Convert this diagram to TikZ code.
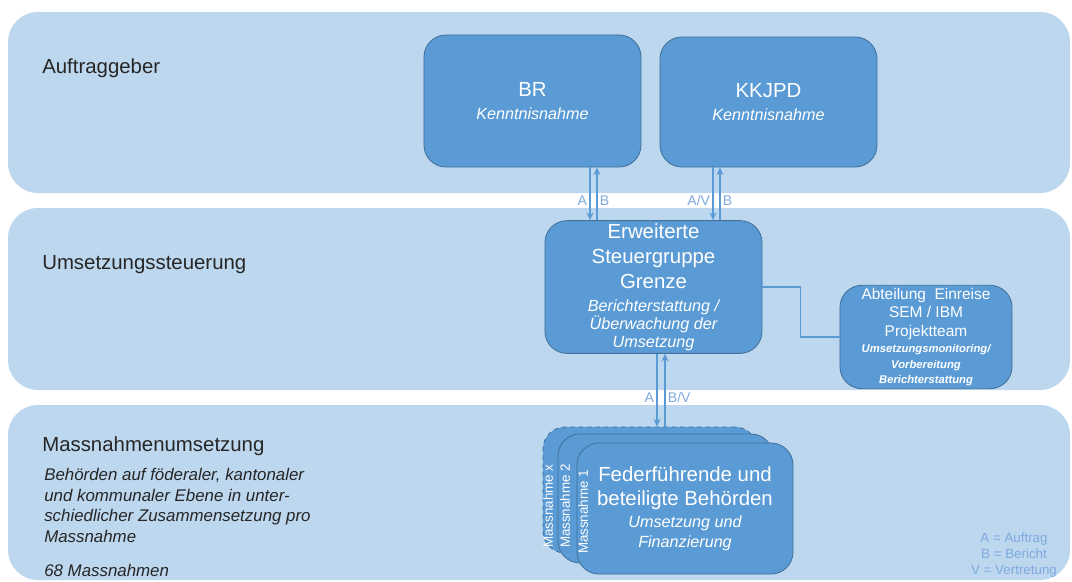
\documentclass[tikz,border=0pt]{standalone}
\usepackage{fontspec}
\setmainfont{Liberation Sans}
\usepackage{tikz}
\usetikzlibrary{arrows.meta}

\definecolor{bandblue}{HTML}{BDD7EE}
\definecolor{boxblue}{HTML}{5B9BD5}
\definecolor{boxedge}{HTML}{41719C}
\definecolor{labelblue}{HTML}{7FAADF}
\definecolor{darktext}{HTML}{262626}

\newcommand{\titlefont}{\fontsize{14.5}{17.8}\selectfont}
\newcommand{\notefont}{\fontsize{11.5}{13.5}\selectfont\itshape}
\newcommand{\smallnote}{\fontsize{8}{11}\selectfont\bfseries\itshape}

\tikzset{
  band/.style={fill=bandblue, rounded corners=0.75cm},
  orgbox/.style={draw=boxedge, fill=boxblue, rounded corners=0.55cm, text=white,
    align=center, line width=0.6pt, inner sep=2pt, font=\titlefont},
  flow/.style={draw=boxblue, line width=1.1pt, -{Stealth[length=5.5pt,width=5pt]}},
  link/.style={draw=boxblue, line width=1.1pt},
  arrowlabel/.style={text=labelblue, font=\fontsize{10}{12}\selectfont, inner sep=1.5pt},
  levellabel/.style={anchor=west, inner sep=0pt, text=darktext, font=\titlefont},
  stacklabel/.style={rotate=90, text=white, font=\fontsize{9.5}{11}\selectfont, inner sep=0pt},
}

\begin{document}
\begin{tikzpicture}[x=0.025cm, y=-0.025cm]
    \useasboundingbox (0,0) rectangle (1072,581);

    % Draw the three bands
    \fill[band] (8,12) rectangle (1070,193);
    \fill[band] (8,208) rectangle (1070,390);
    \fill[band] (8,405) rectangle (1070,580);

    % Add band labels
    \node[levellabel] (auftraggeber) at (42,68) {Auftraggeber};
    \node[levellabel] (steuerung) at (42,265) {Umsetzungssteuerung};
    \node[levellabel] (umsetzung) at (42,446) {Massnahmenumsetzung};
    \node[anchor=north west, inner sep=0pt, align=left, text=darktext,
          font=\fontsize{12}{14.6}\selectfont\itshape] (behoerden) at (44,468)
        {Behörden auf föderaler, kantonaler\\und kommunaler Ebene in unter-\\schiedlicher Zusammensetzung pro\\Massnahme\\[10pt]68 Massnahmen};

    % Draw the boxes
    \node[orgbox, minimum width=5.425cm, minimum height=3.3cm] (br) at (532.5,101)
        {BR\\[-2pt]\notefont Kenntnisnahme};
    \node[orgbox, minimum width=5.425cm, minimum height=3.25cm] (kkjpd) at (768.5,102)
        {KKJPD\\[-2pt]\notefont Kenntnisnahme};
    \node[orgbox, minimum width=5.425cm, minimum height=3.3cm] (esg) at (653.5,287)
        {Erweiterte\\Steuergruppe\\Grenze\\[-1.5pt]
         \notefont Berichterstattung /\\[-5pt]\notefont Überwachung der\\[-5pt]\notefont Umsetzung};
    \node[orgbox, minimum width=4.3cm, minimum height=2.5cm, font=\fontsize{11}{13.2}\selectfont] (abt) at (926,337)
        {Abteilung~~Einreise\\SEM / IBM\\Projektteam\\[-1.5pt]
         \smallnote Umsetzungsmonitoring/\\[-2.3pt]\smallnote Vorbereitung\\[-2.3pt]\smallnote Berichterstattung};

    % Draw the stacked boxes
    \node[orgbox, dashed, minimum width=5.35cm, minimum height=3.15cm] (stackx) at (650,490) {};
    \node[orgbox, minimum width=5.375cm, minimum height=3.225cm] (stack2) at (665.5,498.5) {};
    \node[orgbox, minimum width=5.4cm, minimum height=3.275cm] (stack1) at (685,508.5)
        {Federführende und\\[-0.7pt]beteiligte Behörden\\[-2pt]\notefont Umsetzung und\\[-3.5pt]\notefont Finanzierung};
    \node[stacklabel] (labelx) at (548,506) {Massnahme x};
    \node[stacklabel] (label2) at (565,506) {Massnahme 2};
    \node[stacklabel] (label1) at (583,512) {Massnahme 1};

    % Draw arrows between levels
    \draw[flow] (br.south -| 590,0) -- (esg.north -| 590,0)
        node[arrowlabel, pos=0.63, left] {A};
    \draw[flow] (esg.north -| 597,0) -- (br.south -| 597,0)
        node[arrowlabel, pos=0.37, right] {B};
    \draw[flow] (kkjpd.south -| 713,0) -- (esg.north -| 713,0)
        node[arrowlabel, pos=0.63, left] {A/V};
    \draw[flow] (esg.north -| 720,0) -- (kkjpd.south -| 720,0)
        node[arrowlabel, pos=0.37, right] {B};
    \draw[flow] (esg.south -| 657,0) -- (stackx.north -| 657,0)
        node[arrowlabel, pos=0.6, left] {A};
    \draw[flow] (stackx.north -| 665,0) -- (esg.south -| 665,0)
        node[arrowlabel, pos=0.4, right] {B/V};

    % Draw the side link
    \draw[link] (esg.east) -- ++(38,0) |- (abt.west);

    % Add legend
    \node[align=center, text=labelblue, font=\fontsize{9.5}{11.4}\selectfont] (legend) at (1014,555)
        {A = Auftrag\\B = Bericht\\V = Vertretung};
\end{tikzpicture}
\end{document}
